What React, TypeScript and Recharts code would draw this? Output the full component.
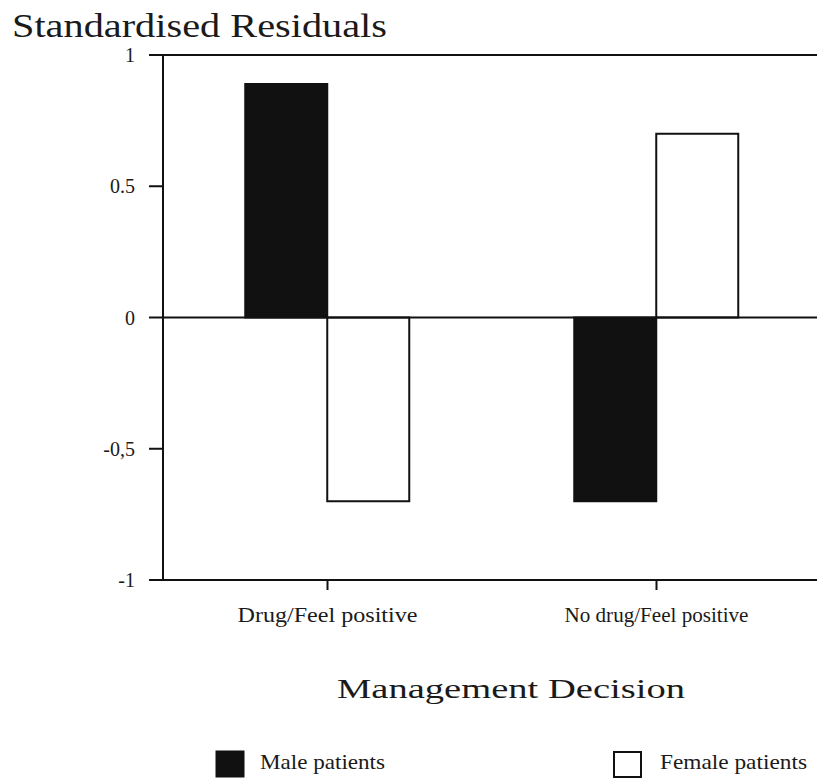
import React from "react";
import { BarChart, Bar, XAxis, YAxis, ReferenceLine, Customized } from "recharts";

const categories = ["Drug/Feel positive", "No drug/Feel positive"];
const maleValues = [0.89, -0.7];
const femaleValues = [-0.7, 0.7];
const seriesNames = ["Male patients", "Female patients"];
const yTicks = [-1, -0.5, 0, 0.5, 1];
const yTickLabels = ["-1", "-0,5", "0", "0.5", "1"];
const chartTitle = "Standardised Residuals";
const xTitle = "Management Decision";

const data = categories.map((c, i) => ({ name: c, male: maleValues[i], female: femaleValues[i] }));

const SERIF = "'Liberation Serif', 'Times New Roman', serif";

const XTick = (props: any) => {
  const { x, y, payload } = props;
  const len = payload.value === categories[0] ? 180 : 184;
  return (
    <text x={x} y={y + 30} textAnchor="middle" fontFamily={SERIF} fontSize={21} fill="#1a1a1a"
      textLength={len} lengthAdjust="spacingAndGlyphs">{payload.value}</text>
  );
};

const YTick = (props: any) => {
  const { x, y, payload } = props;
  const idx = yTicks.indexOf(payload.value);
  return (
    <text x={x - 12} y={y + 7} textAnchor="end" fontFamily={SERIF} fontSize={20} fill="#1a1a1a">
      {yTickLabels[idx]}
    </text>
  );
};

const Overlay = () => (
  <g>
    <text x={12} y={37} fontFamily={SERIF} fontSize={33} fill="#1a1a1a" textLength={375} lengthAdjust="spacingAndGlyphs">{chartTitle}</text>
    <text x={337} y={698} fontFamily={SERIF} fontSize={28} fill="#1a1a1a" textLength={348} lengthAdjust="spacingAndGlyphs">{xTitle}</text>
    <rect x={216} y={751} width={28} height={26} fill="#111" stroke="#111" strokeWidth={1} />
    <text x={260} y={769} fontFamily={SERIF} fontSize={21} fill="#1a1a1a" textLength={125} lengthAdjust="spacingAndGlyphs">{seriesNames[0]}</text>
    <rect x={614} y={752} width={27} height={25} fill="#fff" stroke="#111" strokeWidth={2} />
    <text x={660} y={769} fontFamily={SERIF} fontSize={21} fill="#1a1a1a" textLength={147} lengthAdjust="spacingAndGlyphs">{seriesNames[1]}</text>
  </g>
);

export default function App() {
  return (
    <div style={{ position: "absolute", left: 0, top: 0, width: 817, height: 784, overflow: "hidden", background: "#fff" }}>
      <BarChart width={822} height={784} data={data} margin={{ top: 55, right: 1, left: 0, bottom: 154 }}
        barCategoryGap="25%" barGap={0}>
        <XAxis dataKey="name" height={50} tickSize={10} tickLine={{ stroke: "#111", strokeWidth: 2 }}
          axisLine={{ stroke: "#111", strokeWidth: 2 }} tick={<XTick />} interval={0} />
        <YAxis domain={[-1, 1]} ticks={yTicks} width={163} tickSize={14} tickLine={{ stroke: "#111", strokeWidth: 2 }}
          axisLine={{ stroke: "#111", strokeWidth: 2 }} tick={<YTick />} interval={0} />
        <ReferenceLine y={1} stroke="#111" strokeWidth={2} />
        <ReferenceLine y={0} stroke="#111" strokeWidth={2} />
        <Bar dataKey="male" name={seriesNames[0]} fill="#111" stroke="#111" strokeWidth={2} isAnimationActive={false} />
        <Bar dataKey="female" name={seriesNames[1]} fill="#fff" stroke="#111" strokeWidth={2} isAnimationActive={false} />
        <Customized component={Overlay} />
      </BarChart>
    </div>
  );
}
